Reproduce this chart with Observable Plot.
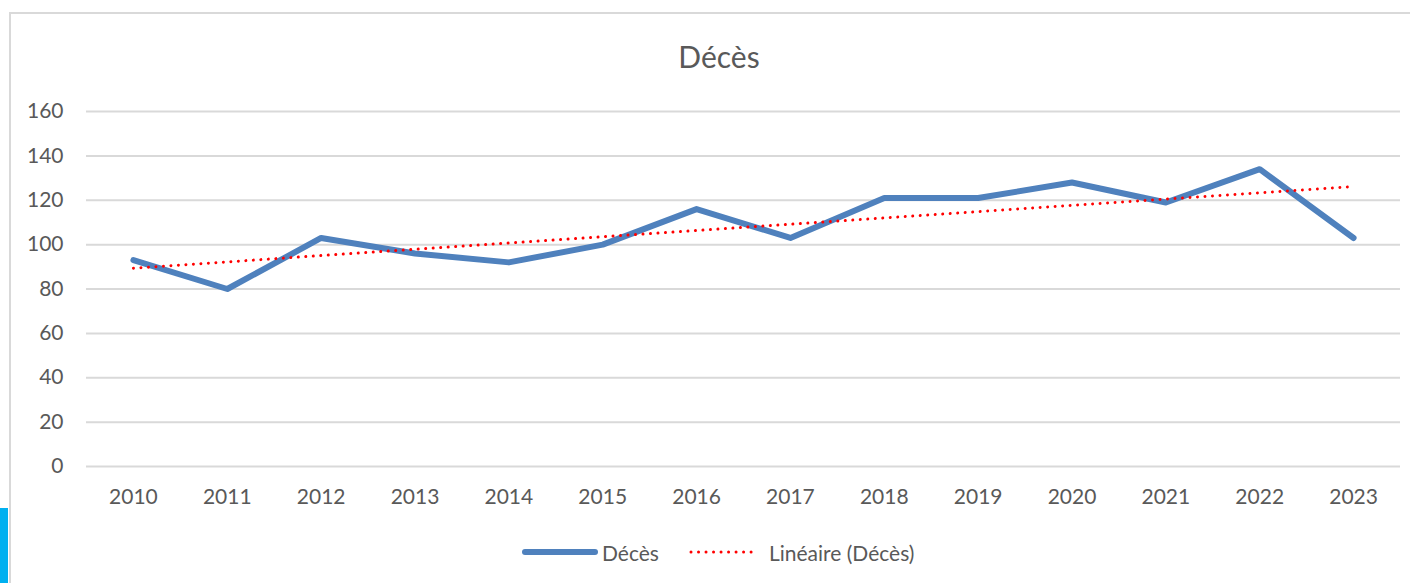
<!DOCTYPE html>
<html>
<head>
<meta charset="utf-8">
<script src="https://cdn.jsdelivr.net/npm/d3@7"></script>
<script src="https://cdn.jsdelivr.net/npm/@observablehq/plot@0.6"></script>
<style>
  html, body { margin: 0; padding: 0; background: #fff; width: 1410px; height: 583px; overflow: hidden; position: relative; font-family: Lato, "Open Sans", sans-serif; }
  #frame { position: absolute; left: 9px; top: 12px; width: 1420px; height: 620px; border-left: 2px solid #d9d9d9; border-top: 2px solid #d9d9d9; box-sizing: border-box; }
  #accent { position: absolute; left: 0; top: 508px; width: 8px; height: 75px; background: #00b0f0; }
  #title { position: absolute; left: 0; width: 1438px; top: 36px; text-align: center; font-size: 30px; color: #595959; line-height: 40px; }
  #chart { position: absolute; left: 0; top: 0; }
  #legend { position: absolute; left: 522px; top: 537px; height: 30px; display: flex; align-items: center; font-size: 21px; color: #595959; }
  #legend .item { display: flex; align-items: center; }
  #legend svg { display: block; }
</style>
</head>
<body>
<div id="frame"></div>
<div id="accent"></div>
<div id="title">Décès</div>
<div id="chart"></div>
<div id="legend"></div>
<script>
const years = [2010, 2011, 2012, 2013, 2014, 2015, 2016, 2017, 2018, 2019, 2020, 2021, 2022, 2023];
const deces = [93, 80, 103, 96, 92, 100, 116, 103, 121, 121, 128, 119, 134, 103];
const yTicks = [0, 20, 40, 60, 80, 100, 120, 140, 160];
const seriesName = "Décès";
const trendName = "Linéaire (Décès)";

const data = years.map((year, i) => ({year, value: deces[i]}));

const blue = "#4f81bd";
const red = "#ff0000";

const plot = Plot.plot({
  width: 1410,
  height: 583,
  marginLeft: 86,
  marginRight: 10,
  marginTop: 111,
  marginBottom: 117,
  style: { fontFamily: "Lato, 'Open Sans', sans-serif", fontSize: "21px", color: "#595959", background: "transparent", overflow: "visible" },
  x: { type: "linear", domain: [2009.5, 2023.5], ticks: years, tickFormat: d => String(d), tickSize: 0, tickPadding: 23, label: null },
  y: { domain: [0, 160], ticks: yTicks, tickSize: 0, tickPadding: 23, label: null },
  marks: [
    Plot.ruleY(yTicks, { stroke: "#d9d9d9", strokeWidth: 2 }),
    Plot.axisX({ ticks: years, tickFormat: d => String(d), tickSize: 0, tickPadding: 23, fill: "#595959", label: null }),
    Plot.axisY({ ticks: yTicks, tickSize: 0, tickPadding: 23, fill: "#595959", label: null }),
    Plot.line(data, { x: "year", y: "value", stroke: blue, strokeWidth: 6, strokeLinejoin: "round", strokeLinecap: "round" }),
    Plot.linearRegressionY(data, { x: "year", y: "value", stroke: red, strokeWidth: 3, ci: 0, strokeDasharray: "0.01 7.5", strokeLinecap: "round" })
  ]
});
document.getElementById("chart").appendChild(plot);

const legend = document.getElementById("legend");
legend.innerHTML = `
  <div class="item">
    <svg width="76" height="12"><line x1="3" y1="6" x2="73" y2="6" stroke="${blue}" stroke-width="6" stroke-linecap="round"/></svg>
    <span style="margin-left:4px">${seriesName}</span>
  </div>
  <div class="item" style="margin-left:30px">
    <svg width="70" height="12"><line x1="2" y1="6" x2="68" y2="6" stroke="${red}" stroke-width="3" stroke-dasharray="0.01 7.5" stroke-linecap="round"/></svg>
    <span style="margin-left:10px">${trendName}</span>
  </div>`;
</script>
</body>
</html>
